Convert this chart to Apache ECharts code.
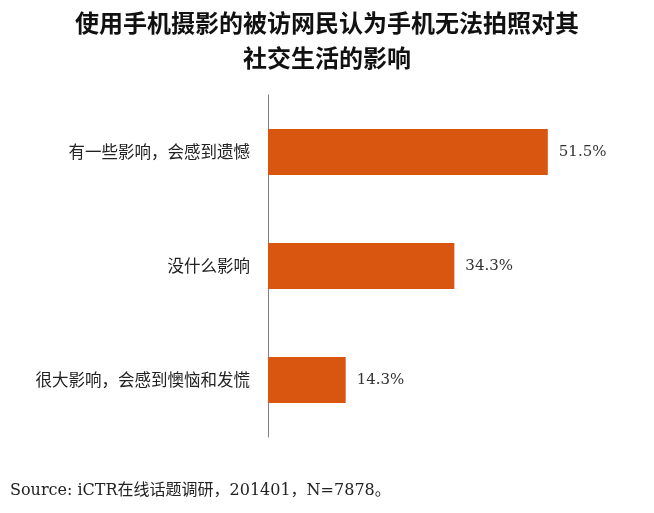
<!DOCTYPE html>
<html>
<head>
<meta charset="utf-8">
<script src="https://cdn.jsdelivr.net/npm/echarts@6/dist/echarts.min.js"></script>
<style>
html,body{margin:0;padding:0;background:#fff;}
#chart{width:654px;height:513px;}
</style>
</head>
<body>
<div id="chart"></div>
<script>
var titleText = '使用手机摄影的被访网民认为手机无法拍照对其\n社交生活的影响';
var categories = ['有一些影响，会感到遗憾', '没什么影响', '很大影响，会感到懊恼和发慌'];
var values = [51.5, 34.3, 14.3];
var sourceText = 'Source: iCTR在线话题调研，201401，N=7878。';

var chart = echarts.init(document.getElementById('chart'));
chart.setOption({
  backgroundColor: '#ffffff',
  animation: false,
  title: {
    text: titleText,
    left: 'center',
    top: 0,
    textStyle: {
      fontSize: 24,
      fontWeight: 'bold',
      lineHeight: 35,
      color: '#111',
      fontFamily: 'Noto Sans CJK SC'
    }
  },
  grid: { left: 268, right: 60, top: 95, bottom: 76, containLabel: false },
  xAxis: {
    type: 'value',
    min: 0,
    max: 60,
    show: false
  },
  yAxis: {
    type: 'category',
    data: categories,
    inverse: true,
    axisLine: { show: true, lineStyle: { color: '#7f7f7f', width: 1 } },
    axisTick: { show: false },
    axisLabel: {
      margin: 18,
      fontSize: 16.5,
      color: '#222',
      fontFamily: 'Noto Sans CJK SC'
    },
    splitLine: { show: false }
  },
  series: [{
    type: 'bar',
    data: values,
    barWidth: 46,
    itemStyle: { color: '#D85610' },
    label: {
      show: true,
      position: 'right',
      distance: 11,
      formatter: function (p) { return p.value.toFixed(1) + '%'; },
      fontSize: 15,
      color: '#333',
      fontFamily: 'DejaVu Serif'
    }
  }],
  graphic: [{
    type: 'text',
    left: 10,
    top: 483,
    style: {
      text: sourceText,
      fontSize: 16,
      fill: '#222',
      fontFamily: '"DejaVu Serif", "Noto Sans CJK SC"'
    }
  }]
});
</script>
</body>
</html>
